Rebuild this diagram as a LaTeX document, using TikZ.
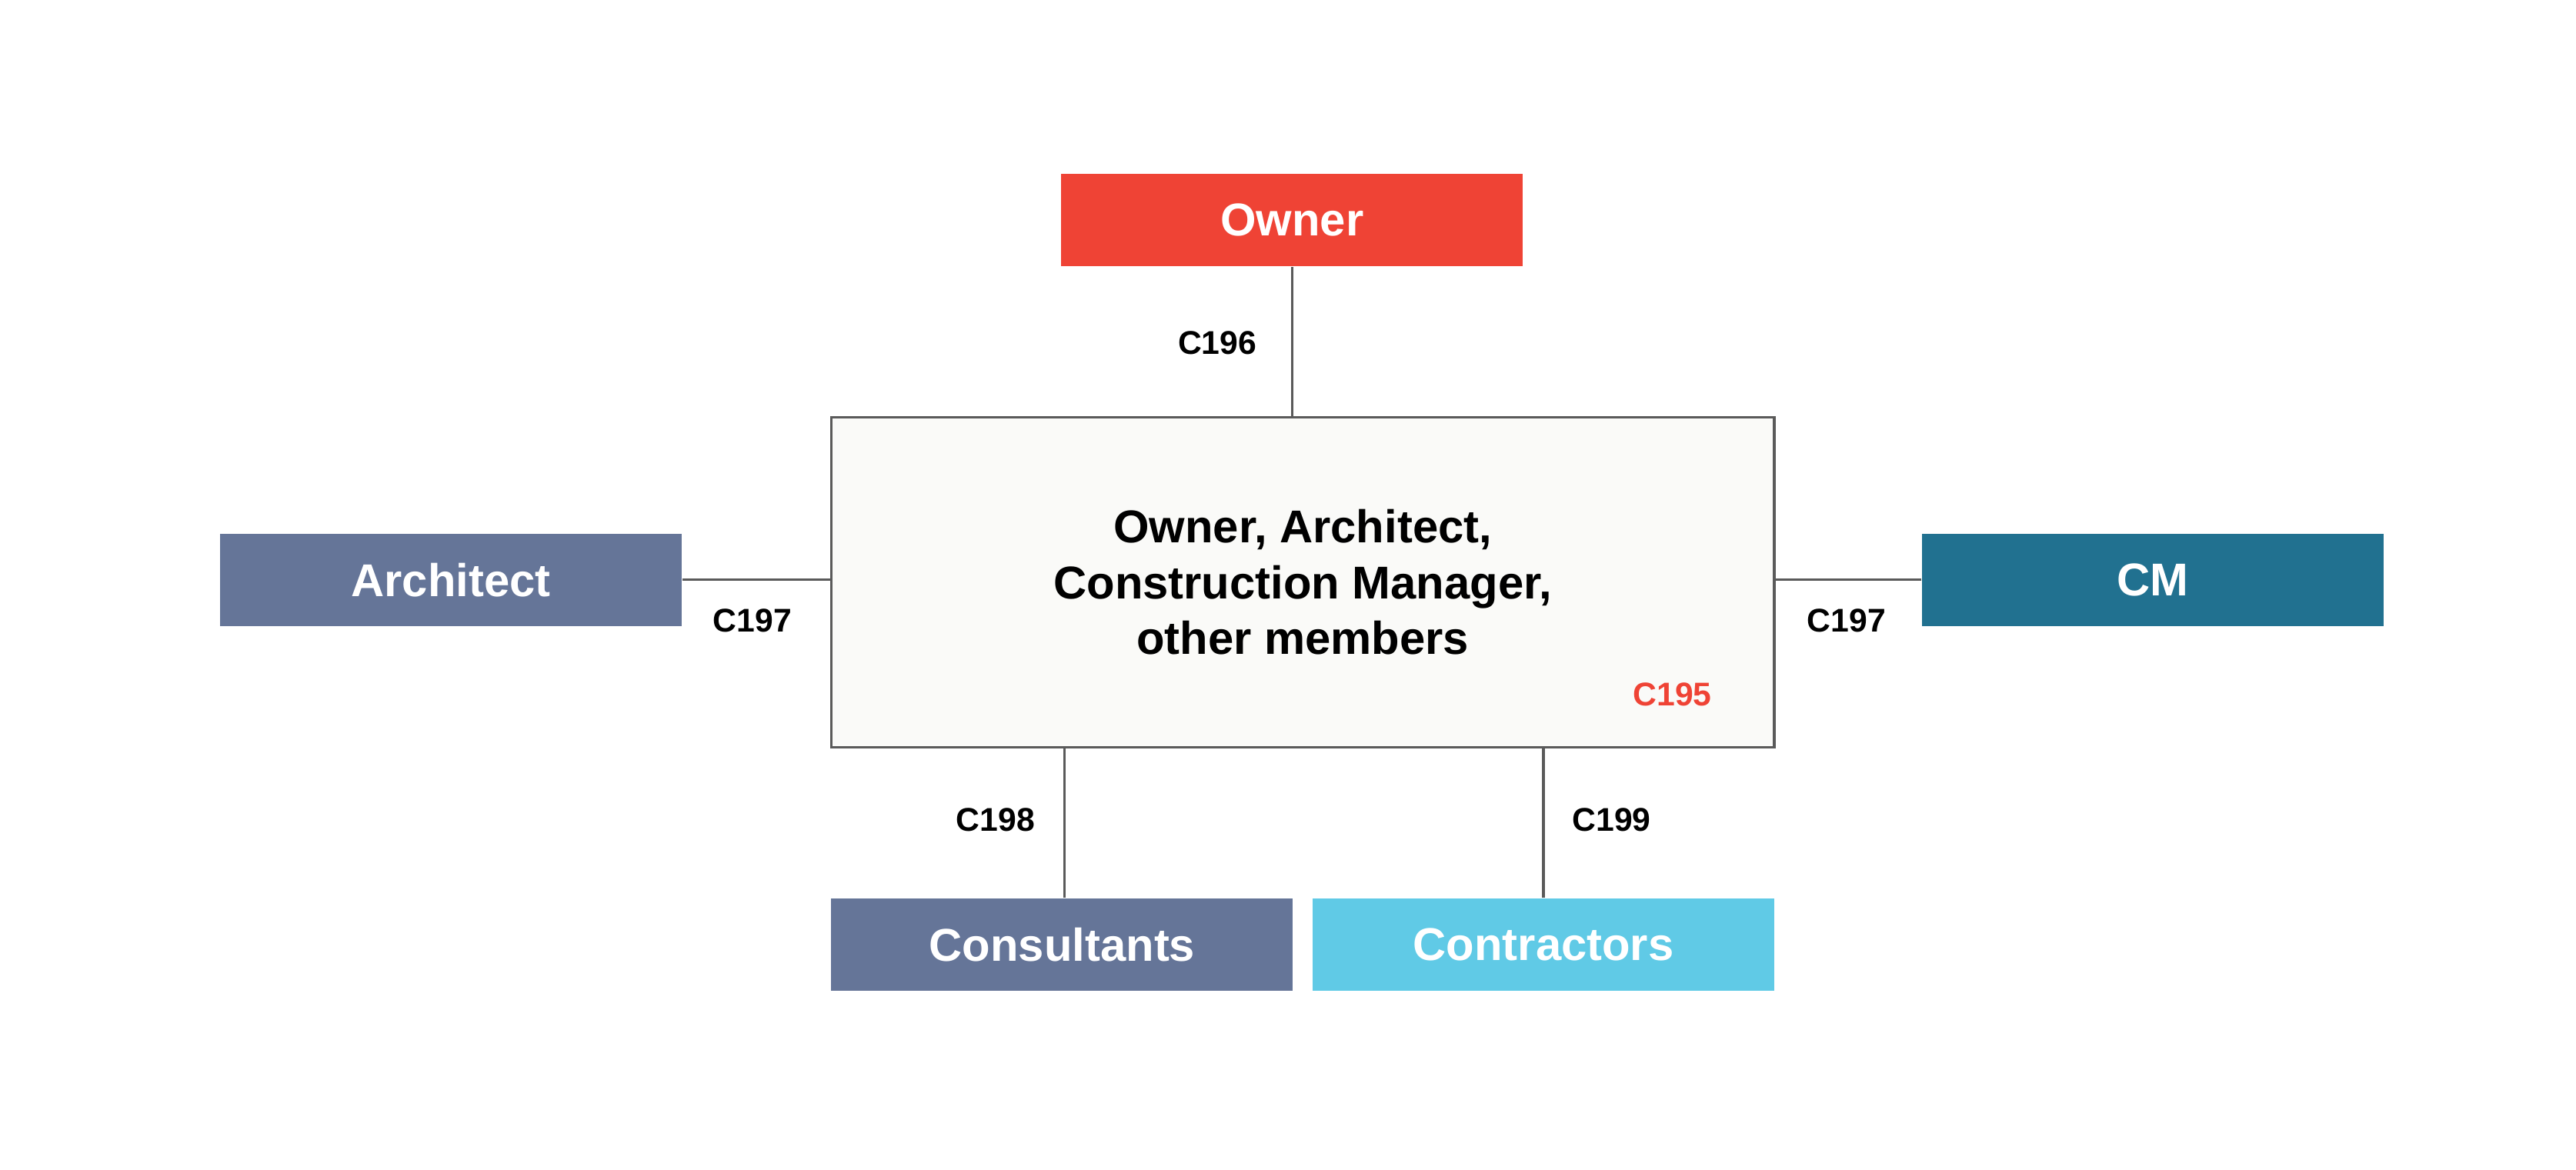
\documentclass[tikz,border=0pt]{standalone}
\usepackage{fontspec}
\setmainfont{Liberation Sans}
\definecolor{own}{HTML}{EF4335}
\definecolor{slate}{HTML}{657598}
\definecolor{teal}{HTML}{217190}
\definecolor{sky}{HTML}{60CAE6}
\definecolor{ln}{HTML}{5A5A5A}
\begin{document}
\begin{tikzpicture}[x=0.5pt,y=-0.5pt,
  box/.style={minimum width=140.5pt,minimum height=28pt,inner sep=0pt,text=white,font=\fontsize{14}{16}\selectfont\bfseries},
  lab/.style={font=\fontsize{10}{12}\selectfont\bfseries},
  conn/.style={draw=ln,line width=0.8pt}]
\useasboundingbox (0,0) rectangle (1568,712);
\node[draw=ln,line width=0.8pt,fill={rgb,255:red,250;green,250;blue,248},minimum width=287pt,minimum height=100.5pt,align=center,font=\fontsize{14}{17}\selectfont\bfseries] (c) at (793,354.5) {Owner, Architect,\\Construction Manager,\\other members};
\node[box,fill=own] (o) at (786.5,134) {Owner};
\node[box,fill=slate] (a) at (274.5,353) {Architect};
\node[box,fill=teal] (m) at (1310.5,353) {CM};
\node[box,fill=slate] (s) at (646.5,575) {Consultants};
\node[box,fill=sky] (t) at (939.5,575) {Contractors};
\node[lab,text=own] (l5) at (1018,423) {C195};
\draw[conn] (o.south) -- (c.north -| o.south);
\draw[conn] (a.east) -- (a.east -| c.west);
\draw[conn] (m.west) -- (m.west -| c.east);
\draw[conn] (s.north -| 648,0) -- (648,455);
\draw[conn] (t.north -| 939.5,0) -- (939.5,455);
\node[lab] (l6) at (741,209) {C196};
\node[lab] (l7a) at (458,378) {C197};
\node[lab] (l7b) at (1124,378) {C197};
\node[lab] (l8) at (606,499) {C198};
\node[lab] (l9) at (981,499) {C199};
\end{tikzpicture}
\end{document}
